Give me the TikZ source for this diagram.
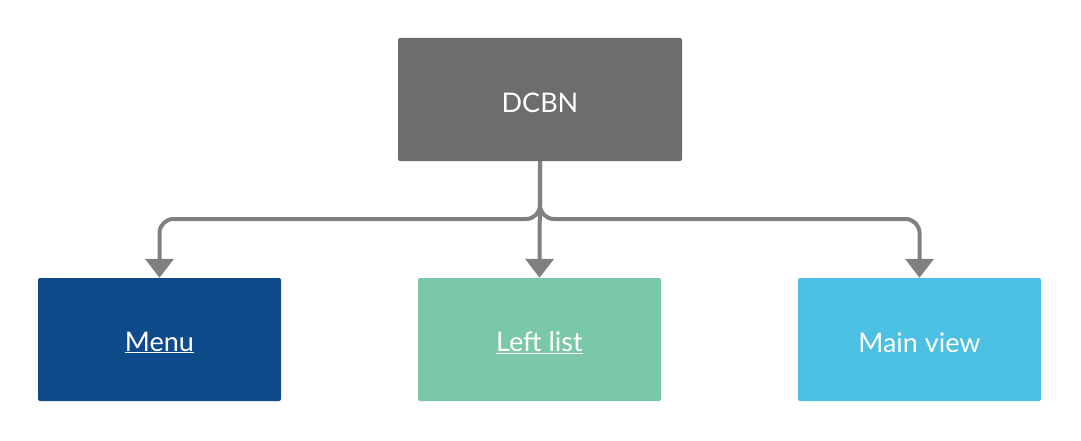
\documentclass[tikz,border=0pt]{standalone}
\usepackage{fontspec}
\setmainfont{Lato}
\usetikzlibrary{arrows.meta}
\definecolor{topgray}{HTML}{6D6D6F}
\definecolor{menublue}{HTML}{0F4A8A}
\definecolor{leftgreen}{HTML}{7AC8A8}
\definecolor{mainblue}{HTML}{4BC0E3}
\definecolor{linegray}{HTML}{808080}
\newcommand{\lbl}[1]{\raisebox{-3pt}[\height][\depth]{#1}}
\begin{document}
\begin{tikzpicture}[x=1pt,y=-1pt,
  box/.style={rounded corners=2pt, minimum width=243pt, minimum height=123pt, inner sep=0pt,
    text=white, font=\fontsize{27}{32}\selectfont},
  conn/.style={draw=linegray, line width=4pt, rounded corners=14pt,
    -{Triangle[width=28pt,length=19pt]}}]
\useasboundingbox (0,0) rectangle (1081,441);
\node[box, fill=topgray, minimum width=284pt] (top) at (540,99.5) {\lbl{DCBN}};
\node[box, fill=menublue] (menu) at (159.5,339.5) {\lbl{\underline{Menu}}};
\node[box, fill=leftgreen] (left) at (539.5,339.5) {\lbl{\underline{Left list}}};
\node[box, fill=mainblue] (main) at (919.5,339.5) {\lbl{Main view}};
\coordinate (j) at (540,219);
\draw[conn] (top.south) -- (j) -| (menu.north);
\draw[conn] (top.south) -- (j) -| (main.north);
\draw[conn] (top.south) -- (left.north);
\end{tikzpicture}
\end{document}
